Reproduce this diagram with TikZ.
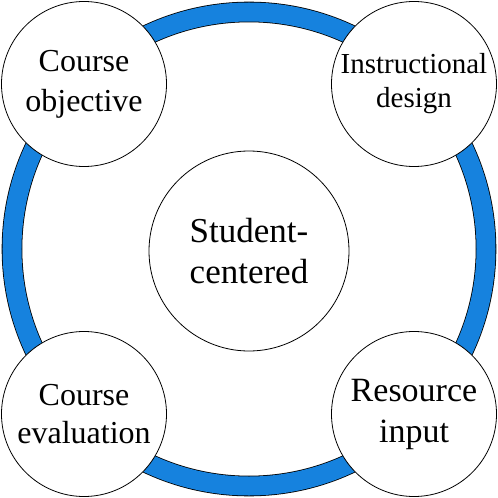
\documentclass[tikz,border=0pt]{standalone}
\usepackage{fontspec}
\setmainfont{Liberation Serif}
\usepackage{xcolor}
\definecolor{ringblue}{RGB}{22,130,222}
\usetikzlibrary{positioning,backgrounds}
\newcommand{\fs}[2]{\fontsize{#1}{#2}\selectfont}

\begin{document}
\begin{tikzpicture}[
    x=1pt, y=1pt,
    ring/.style={draw=black, line width=0.8pt, double=ringblue,
                 double distance=19pt},
    bub/.style ={circle, draw=black, line width=0.8pt, fill=white,
                 minimum size=165pt, inner sep=0pt, align=center},
    hub/.style ={bub, minimum size=200pt},
  ]
  \useasboundingbox (-249,-249) rectangle (249,249);
  % outer ring
  \node[inner sep=0pt] (core) at (0,0) {};
  \draw[ring] (core) circle (237);
  % centre
  \node[hub, font=\fs{35}{41}] (stu) at (0,-2) {Student-\\centered};
  % corner topics
  \node[bub, font=\fs{32}{40}] (obj) at (-165,165) {Course\\objective};
  \node[bub, font=\fs{29}{34}] (des) at (165,165) {Instructional\\design};
  \node[bub, font=\fs{32}{38}] (eva) at (-165,-165) {Course\\evaluation};
  \node[bub, font=\fs{34}{41}] (res) at (165,-165) {Resource\\input};
\end{tikzpicture}
\end{document}
